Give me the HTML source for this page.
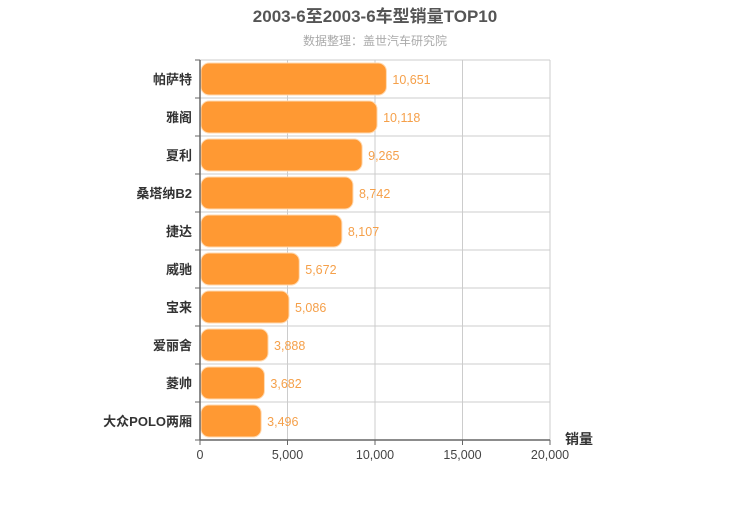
<!DOCTYPE html>
<html><head><meta charset="utf-8"><style>
body{margin:0;background:#fff;}
svg text{font-family:"Liberation Sans","Noto Sans CJK SC",sans-serif;}
</style></head><body>
<svg id="c" width="750" height="500">
<text x="375" y="22" text-anchor="middle" font-size="17" font-weight="bold" fill="#555">2003-6至2003-6车型销量TOP10</text>
<text x="375" y="45" text-anchor="middle" font-size="12" fill="#aaa">数据整理：盖世汽车研究院</text>
<g id="g"></g>
</svg>
<script>
const categories=["帕萨特","雅阁","夏利","桑塔纳B2","捷达","威驰","宝来","爱丽舍","菱帅","大众POLO两厢"];
const values=[10651,10118,9265,8742,8107,5672,5086,3888,3682,3496];
const ticks=[0,5000,10000,15000,20000];
const L=200,R=550,T=60,B=440,MAX=20000;
const x=v=>L+(v/MAX)*(R-L);
const rowH=(B-T)/categories.length;
const y=i=>T+i*rowH;
const g=document.getElementById('g');
const NS='http://www.w3.org/2000/svg';
function mk(t,a){const e=document.createElementNS(NS,t);for(const k in a)e.setAttribute(k,a[k]);g.appendChild(e);return e;}
const fmt=v=>v.toLocaleString('en-US');
ticks.forEach(t=>{
 const l=mk('line',{x1:x(t),x2:x(t),y1:T,y2:B,stroke:'#ccc','stroke-width':1});
 
 
 const tk=mk('line',{x1:x(t),x2:x(t),y1:B,y2:B+5,stroke:'#666'});
 
 
 const tx=mk('text',{x:x(t),y:B+19,'text-anchor':'middle','font-size':12.5,fill:'#444'});
 tx.textContent=fmt(t);
 
 
});
for(let i=0;i<=categories.length;i++){
 const l=mk('line',{x1:L,x2:R,y1:y(i),y2:y(i),stroke:'#ccc'});
 
 
 const tk=mk('line',{x1:L-5,x2:L,y1:y(i),y2:y(i),stroke:'#666'});
 
 
}
categories.forEach((c,i)=>{
 const cy=y(i)+rowH/2;
 const r=mk('rect',{x:L+1,y:cy-16,width:x(values[i])-L-1,height:32,rx:8,ry:8,fill:'#ff9933',stroke:'#ffd9b0','stroke-width':1});
 
 
 const lb=mk('text',{x:L-8,y:cy+5,'text-anchor':'end','font-size':13,'font-weight':'bold',fill:'#333'});
 lb.textContent=c;
 
 
 const vl=mk('text',{x:x(values[i])+6,y:cy+5,'font-size':12.5,fill:'#f5a04a'});
 vl.textContent=fmt(values[i]);
 
 
});
const ax=mk('line',{x1:L,x2:R,y1:B,y2:B,stroke:'#666','stroke-width':1.5});


const ay=mk('line',{x1:L,x2:L,y1:T,y2:B,stroke:'#666','stroke-width':1.5});


const at=mk('text',{x:565,y:444,'font-size':14,'font-weight':'bold',fill:'#333'});
at.textContent='销量';


</script>
</body></html>
